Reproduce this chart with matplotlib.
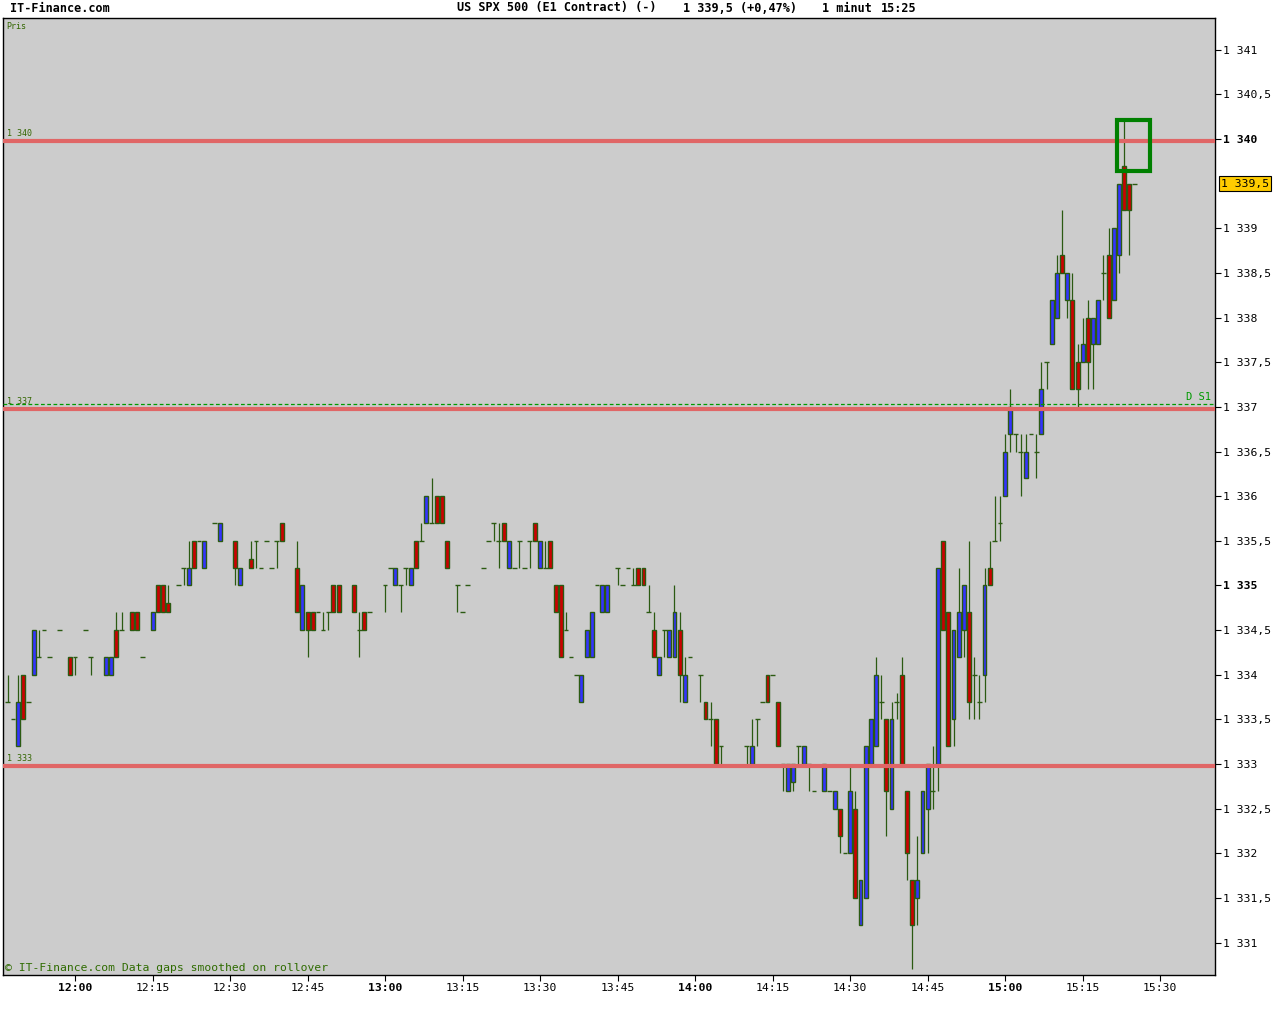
import matplotlib
matplotlib.use("Agg")
import matplotlib.pyplot as plt
from matplotlib.patches import Rectangle

# ---- du lieu nen 1 phut (gia doc tu hinh) ----
times = ["11:47", "11:48", "11:49", "11:50", "11:51", "11:52", "11:53", "11:54", "11:55", "11:57",
         "11:59", "12:00", "12:02", "12:03", "12:06", "12:07", "12:08", "12:09", "12:11", "12:12",
         "12:13", "12:15", "12:16", "12:17", "12:18", "12:20", "12:21", "12:22", "12:23", "12:24",
         "12:25", "12:27", "12:28", "12:31", "12:32", "12:34", "12:35", "12:36", "12:37", "12:38",
         "12:39", "12:40", "12:43", "12:44", "12:45", "12:46", "12:47", "12:48", "12:49", "12:50",
         "12:51", "12:54", "12:55", "12:56", "12:57", "13:00", "13:01", "13:02", "13:03", "13:04",
         "13:05", "13:06", "13:07", "13:08", "13:09", "13:10", "13:11", "13:12", "13:14", "13:15",
         "13:16", "13:19", "13:20", "13:21", "13:22", "13:23", "13:24", "13:25", "13:26", "13:27",
         "13:28", "13:29", "13:30", "13:31", "13:32", "13:33", "13:34", "13:35", "13:36", "13:37",
         "13:38", "13:39", "13:40", "13:41", "13:42", "13:43", "13:45", "13:46", "13:47", "13:48",
         "13:49", "13:50", "13:51", "13:52", "13:53", "13:54", "13:55", "13:56", "13:57", "13:58",
         "13:59", "14:01", "14:02", "14:03", "14:04", "14:05", "14:10", "14:11", "14:12", "14:13",
         "14:14", "14:15", "14:16", "14:17", "14:18", "14:19", "14:20", "14:21", "14:22", "14:23",
         "14:25", "14:26", "14:27", "14:28", "14:29", "14:30", "14:31", "14:32", "14:33", "14:34",
         "14:35", "14:36", "14:37", "14:38", "14:39", "14:40", "14:41", "14:42", "14:43", "14:44",
         "14:45", "14:46", "14:47", "14:48", "14:49", "14:50", "14:51", "14:52", "14:53", "14:54",
         "14:55", "14:56", "14:57", "14:58", "14:59", "15:00", "15:01", "15:02", "15:03", "15:04",
         "15:05", "15:06", "15:07", "15:08", "15:09", "15:10", "15:11", "15:12", "15:13", "15:14",
         "15:15", "15:16", "15:17", "15:18", "15:19", "15:20", "15:21", "15:22", "15:23", "15:24",
         "15:25"]

opens = [1333.7, 1333.5, 1333.2, 1334.0, 1333.7, 1334.0, 1334.2, 1334.5, 1334.2, 1334.5,
         1334.2, 1334.2, 1334.5, 1334.2, 1334.0, 1334.0, 1334.5, 1334.5, 1334.7, 1334.7,
         1334.2, 1334.5, 1335.0, 1335.0, 1334.8, 1335.0, 1335.2, 1335.0, 1335.5, 1335.5,
         1335.2, 1335.7, 1335.5, 1335.5, 1335.0, 1335.3, 1335.5, 1335.2, 1335.5, 1335.2,
         1335.5, 1335.7, 1335.2, 1334.5, 1334.7, 1334.7, 1334.7, 1334.5, 1334.7, 1335.0,
         1335.0, 1335.0, 1334.5, 1334.7, 1334.7, 1335.0, 1335.2, 1335.0, 1335.0, 1335.2,
         1335.0, 1335.5, 1335.5, 1335.7, 1335.7, 1336.0, 1336.0, 1335.5, 1335.0, 1334.7,
         1335.0, 1335.2, 1335.5, 1335.7, 1335.5, 1335.7, 1335.2, 1335.2, 1335.5, 1335.2,
         1335.5, 1335.7, 1335.2, 1335.2, 1335.5, 1335.0, 1335.0, 1334.5, 1334.2, 1334.0,
         1333.7, 1334.2, 1334.2, 1335.0, 1334.7, 1334.7, 1335.2, 1335.0, 1335.2, 1335.0,
         1335.2, 1335.2, 1334.7, 1334.5, 1334.0, 1334.5, 1334.2, 1334.2, 1334.5, 1333.7,
         1334.2, 1334.0, 1333.7, 1333.5, 1333.5, 1333.2, 1333.2, 1333.0, 1333.5, 1333.7,
         1334.0, 1334.0, 1333.7, 1333.0, 1332.7, 1332.8, 1333.2, 1333.0, 1333.0, 1332.7,
         1332.7, 1332.7, 1332.5, 1332.5, 1332.0, 1332.0, 1332.5, 1331.2, 1331.5, 1333.0,
         1333.2, 1333.7, 1333.5, 1332.5, 1333.7, 1334.0, 1332.7, 1331.7, 1331.5, 1332.0,
         1332.5, 1332.7, 1333.0, 1335.5, 1334.7, 1333.5, 1334.2, 1334.5, 1334.7, 1334.0,
         1333.7, 1334.0, 1335.2, 1335.5, 1335.7, 1336.0, 1336.7, 1336.7, 1336.5, 1336.2,
         1336.7, 1336.5, 1336.7, 1337.5, 1337.7, 1338.0, 1338.7, 1338.2, 1338.2, 1337.5,
         1337.5, 1338.0, 1337.7, 1337.7, 1338.5, 1338.7, 1338.2, 1338.7, 1339.7, 1339.5,
         1339.5]

highs = [1334.0, 1333.5, 1334.0, 1334.0, 1333.7, 1334.5, 1334.5, 1334.5, 1334.2, 1334.5,
         1334.2, 1334.2, 1334.5, 1334.2, 1334.2, 1334.2, 1334.7, 1334.7, 1334.7, 1334.7,
         1334.2, 1334.7, 1335.0, 1335.0, 1335.0, 1335.0, 1335.2, 1335.5, 1335.5, 1335.5,
         1335.5, 1335.7, 1335.7, 1335.5, 1335.2, 1335.5, 1335.5, 1335.2, 1335.5, 1335.2,
         1335.5, 1335.7, 1335.5, 1335.0, 1334.7, 1334.7, 1334.7, 1334.7, 1334.7, 1335.0,
         1335.0, 1335.0, 1334.7, 1334.7, 1334.7, 1335.0, 1335.2, 1335.2, 1335.0, 1335.2,
         1335.2, 1335.5, 1335.7, 1336.0, 1336.2, 1336.0, 1336.0, 1335.5, 1335.0, 1334.7,
         1335.0, 1335.2, 1335.5, 1335.7, 1335.7, 1335.7, 1335.5, 1335.2, 1335.5, 1335.2,
         1335.5, 1335.7, 1335.5, 1335.5, 1335.5, 1335.0, 1335.0, 1334.7, 1334.2, 1334.0,
         1334.0, 1334.5, 1334.7, 1335.0, 1335.0, 1335.0, 1335.2, 1335.0, 1335.2, 1335.2,
         1335.2, 1335.2, 1335.0, 1334.7, 1334.2, 1334.5, 1334.5, 1335.0, 1334.7, 1334.2,
         1334.2, 1334.0, 1333.7, 1333.7, 1333.5, 1333.2, 1333.2, 1333.5, 1333.5, 1333.7,
         1334.0, 1334.0, 1333.7, 1333.0, 1333.0, 1333.0, 1333.2, 1333.2, 1333.0, 1332.7,
         1333.0, 1332.7, 1332.7, 1332.5, 1332.0, 1333.0, 1332.7, 1331.7, 1333.2, 1333.5,
         1334.2, 1334.0, 1333.5, 1333.7, 1333.8, 1334.2, 1332.7, 1331.7, 1332.2, 1332.7,
         1333.0, 1333.2, 1335.2, 1335.5, 1334.7, 1334.5, 1335.2, 1335.0, 1335.5, 1334.2,
         1334.0, 1335.2, 1335.5, 1336.0, 1336.0, 1336.7, 1337.2, 1336.7, 1336.7, 1336.7,
         1336.7, 1336.7, 1337.5, 1337.5, 1338.2, 1338.7, 1339.2, 1338.5, 1338.5, 1337.7,
         1338.0, 1338.2, 1338.0, 1338.2, 1338.7, 1339.0, 1339.0, 1339.5, 1340.2, 1339.5,
         1339.5]

lows = [1333.7, 1333.5, 1333.2, 1333.5, 1333.7, 1334.0, 1334.2, 1334.5, 1334.2, 1334.5,
        1334.0, 1334.0, 1334.5, 1334.0, 1334.0, 1334.0, 1334.2, 1334.5, 1334.5, 1334.5,
        1334.2, 1334.5, 1334.7, 1334.7, 1334.7, 1335.0, 1335.0, 1335.0, 1335.2, 1335.5,
        1335.2, 1335.7, 1335.5, 1335.0, 1335.0, 1335.2, 1335.2, 1335.2, 1335.5, 1335.2,
        1335.2, 1335.5, 1334.7, 1334.5, 1334.2, 1334.5, 1334.7, 1334.5, 1334.5, 1334.7,
        1334.7, 1334.7, 1334.2, 1334.5, 1334.7, 1334.7, 1335.2, 1335.0, 1334.7, 1335.0,
        1335.0, 1335.2, 1335.5, 1335.7, 1335.7, 1335.7, 1335.7, 1335.2, 1334.7, 1334.7,
        1335.0, 1335.2, 1335.5, 1335.5, 1335.2, 1335.5, 1335.2, 1335.2, 1335.2, 1335.2,
        1335.2, 1335.5, 1335.2, 1335.2, 1335.2, 1334.7, 1334.2, 1334.5, 1334.2, 1334.0,
        1333.7, 1334.2, 1334.2, 1335.0, 1334.7, 1334.7, 1335.0, 1335.0, 1335.2, 1335.0,
        1335.0, 1335.0, 1334.7, 1334.2, 1334.0, 1334.2, 1334.2, 1334.2, 1333.7, 1333.7,
        1334.2, 1333.7, 1333.5, 1333.2, 1333.0, 1333.0, 1333.0, 1333.0, 1333.2, 1333.7,
        1333.7, 1334.0, 1333.2, 1332.7, 1332.7, 1332.7, 1333.0, 1333.0, 1332.7, 1332.7,
        1332.7, 1332.7, 1332.5, 1332.0, 1332.0, 1332.0, 1331.5, 1331.2, 1331.5, 1333.0,
        1333.2, 1333.5, 1332.2, 1332.5, 1333.5, 1333.0, 1331.7, 1330.7, 1331.2, 1332.0,
        1332.0, 1332.5, 1332.7, 1334.5, 1333.2, 1333.2, 1334.2, 1334.2, 1333.5, 1333.5,
        1333.5, 1333.7, 1335.0, 1335.5, 1335.5, 1336.0, 1336.5, 1336.5, 1336.0, 1336.2,
        1336.7, 1336.2, 1336.7, 1337.2, 1337.7, 1338.0, 1338.5, 1338.0, 1337.2, 1337.0,
        1337.5, 1337.2, 1337.2, 1337.7, 1338.2, 1338.0, 1338.2, 1338.5, 1339.2, 1338.7,
        1339.5]

closes = [1333.7, 1333.5, 1333.7, 1333.5, 1333.7, 1334.5, 1334.2, 1334.5, 1334.2, 1334.5,
          1334.0, 1334.2, 1334.5, 1334.2, 1334.2, 1334.2, 1334.2, 1334.5, 1334.5, 1334.5,
          1334.2, 1334.7, 1334.7, 1334.7, 1334.7, 1335.0, 1335.2, 1335.2, 1335.2, 1335.5,
          1335.5, 1335.7, 1335.7, 1335.2, 1335.2, 1335.2, 1335.5, 1335.2, 1335.5, 1335.2,
          1335.5, 1335.5, 1334.7, 1335.0, 1334.5, 1334.5, 1334.7, 1334.5, 1334.7, 1334.7,
          1334.7, 1334.7, 1334.5, 1334.5, 1334.7, 1335.0, 1335.2, 1335.2, 1335.0, 1335.2,
          1335.2, 1335.2, 1335.5, 1336.0, 1335.7, 1335.7, 1335.7, 1335.2, 1335.0, 1334.7,
          1335.0, 1335.2, 1335.5, 1335.7, 1335.5, 1335.5, 1335.5, 1335.2, 1335.5, 1335.2,
          1335.5, 1335.5, 1335.5, 1335.2, 1335.2, 1334.7, 1334.2, 1334.5, 1334.2, 1334.0,
          1334.0, 1334.5, 1334.7, 1335.0, 1335.0, 1335.0, 1335.2, 1335.0, 1335.2, 1335.0,
          1335.0, 1335.0, 1334.7, 1334.2, 1334.2, 1334.5, 1334.5, 1334.7, 1334.0, 1334.0,
          1334.2, 1334.0, 1333.5, 1333.5, 1333.0, 1333.2, 1333.2, 1333.2, 1333.5, 1333.7,
          1333.7, 1334.0, 1333.2, 1333.0, 1333.0, 1333.0, 1333.2, 1333.2, 1333.0, 1332.7,
          1333.0, 1332.7, 1332.7, 1332.2, 1332.0, 1332.7, 1331.5, 1331.7, 1333.2, 1333.5,
          1334.0, 1333.7, 1332.7, 1333.5, 1333.7, 1333.0, 1332.0, 1331.2, 1331.7, 1332.7,
          1333.0, 1332.7, 1335.2, 1334.5, 1333.2, 1334.5, 1334.7, 1335.0, 1333.7, 1334.0,
          1333.7, 1335.0, 1335.0, 1335.5, 1335.7, 1336.5, 1337.0, 1336.7, 1336.5, 1336.5,
          1336.7, 1336.5, 1337.2, 1337.5, 1338.2, 1338.5, 1338.5, 1338.5, 1337.2, 1337.2,
          1337.7, 1337.5, 1338.0, 1338.2, 1338.5, 1338.0, 1339.0, 1339.5, 1339.2, 1339.2,
          1339.5]

# muc khang cu / ho tro
levels = [1340.0, 1337.0, 1333.0]
level_labels = ["1 340", "1 337", "1 333"]
pivot_s1 = 1337.03

y_ticks = [1331.0, 1331.5, 1332.0, 1332.5, 1333.0, 1333.5, 1334.0, 1334.5, 1335.0,
           1335.5, 1336.0, 1336.5, 1337.0, 1337.5, 1338.0, 1338.5, 1339.0, 1340.0,
           1340.5, 1341.0]
y_tick_labels = ["1 331", "1 331,5", "1 332", "1 332,5", "1 333", "1 333,5", "1 334",
                 "1 334,5", "1 335", "1 335,5", "1 336", "1 336,5", "1 337", "1 337,5",
                 "1 338", "1 338,5", "1 339", "1 340", "1 340,5", "1 341"]
x_tick_labels = ["12:00", "12:15", "12:30", "12:45", "13:00", "13:15", "13:30", "13:45",
                 "14:00", "14:15", "14:30", "14:45", "15:00", "15:15", "15:30"]
last_price = 1339.5
header_parts = ["US SPX 500 (E1 Contract) (-)", "1 339,5 (+0,47%)", "1 minut", "15:25"]


def phut(s):
    # so phut tinh tu 12:00
    h, m = s.split(":")
    return (int(h) - 12) * 60 + int(m)


x = [phut(t) for t in times]
xt = [phut(t) for t in x_tick_labels]

MONO = "DejaVu Sans Mono"
WICK = "#2b5a12"
BLUE = "#3333ff"
RED = "#cc0000"
BG = "#cccccc"

fig = plt.figure(figsize=(12.8, 10.24), dpi=100)
fig.patch.set_facecolor("white")
ax = fig.add_axes([3 / 1280, 49 / 1024, 1212 / 1280, 957 / 1024])
ax.set_facecolor(BG)

# bac / rau nen
ax.vlines(x, lows, highs, color=WICK, lw=0.9, zorder=2)

# than nen
for xi, o, c in zip(x, opens, closes):
    if o == c:
        ax.hlines(o, xi - 0.46, xi + 0.46, color=WICK, lw=1.0, zorder=3)
    else:
        col = BLUE if c > o else RED
        ax.bar(xi, abs(c - o), bottom=min(o, c), width=0.76, color=col,
               edgecolor=WICK, linewidth=1.0, zorder=3)

# duong muc
yx = ax.get_yaxis_transform()
for lv, lb in zip(levels, level_labels):
    ax.axhline(lv - 0.02, color="#e06666", lw=3.0, zorder=4)
    ax.text(0.003, lv + 0.01, lb, transform=yx, fontsize=6, family=MONO,
            color="#336600", va="bottom", ha="left", zorder=5)

ax.axhline(pivot_s1, color="#009900", lw=0.9, ls=(0, (3, 2)), zorder=4)
ax.text(0.997, pivot_s1 + 0.03, "D S1", transform=yx, fontsize=7.5, family=MONO,
        color="#009900", ha="right", va="bottom", zorder=5)

# khung xanh quanh dinh
ax.add_patch(Rectangle((201.6, 1339.645), 6.5, 0.565, fill=False,
                       edgecolor="#008000", lw=3.0, zorder=6))

ax.set_xlim(-13.94, 220.6)
ax.set_ylim(1330.638, 1341.355)

ax.yaxis.tick_right()
ax.set_yticks(y_ticks)
ax.set_yticklabels(y_tick_labels, family=MONO, fontsize=8.2)
ax.set_xticks(xt)
ax.set_xticklabels(x_tick_labels, family=MONO, fontsize=8.2)
ax.tick_params(axis="both", direction="out", length=4, width=0.8, color="black", pad=2)
for lbl, v in zip(ax.get_yticklabels(), y_ticks):
    if v % 5 == 0:
        lbl.set_fontweight("bold")
for lbl, t in zip(ax.get_xticklabels(), xt):
    if t % 60 == 0:
        lbl.set_fontweight("bold")

for s in ax.spines.values():
    s.set_color("black")
    s.set_linewidth(1.0)

# o gia hien tai
ax.text(1.0 + 6 / 1212, last_price, "1 339,5", transform=yx, fontsize=8.2, family=MONO,
        va="center", ha="left", zorder=7, clip_on=False,
        bbox=dict(boxstyle="square,pad=0.2", fc="#ffcc00", ec="black", lw=0.8))

ax.text(0.003, 0.996, "Pris", transform=ax.transAxes, fontsize=6, family=MONO,
        color="#336600", va="top", ha="left")
ax.text(0.002, 0.002, "\u00a9 IT-Finance.com Data gaps smoothed on rollover",
        transform=ax.transAxes, fontsize=8.2, family=MONO, color="#2e6b00",
        va="bottom", ha="left")

# tieu de
fig.text(10 / 1280, 1 - 8 / 1024, "IT-Finance.com", family=MONO, fontweight="bold",
         fontsize=8.5, va="center", ha="left")
for xpx, part in zip([457, 683, 822, 881], header_parts):
    fig.text(xpx / 1280, 1 - 8 / 1024, part, family=MONO, fontweight="bold",
             fontsize=8.5, va="center", ha="left")

fig.savefig("out.png", dpi=100, facecolor="white")
